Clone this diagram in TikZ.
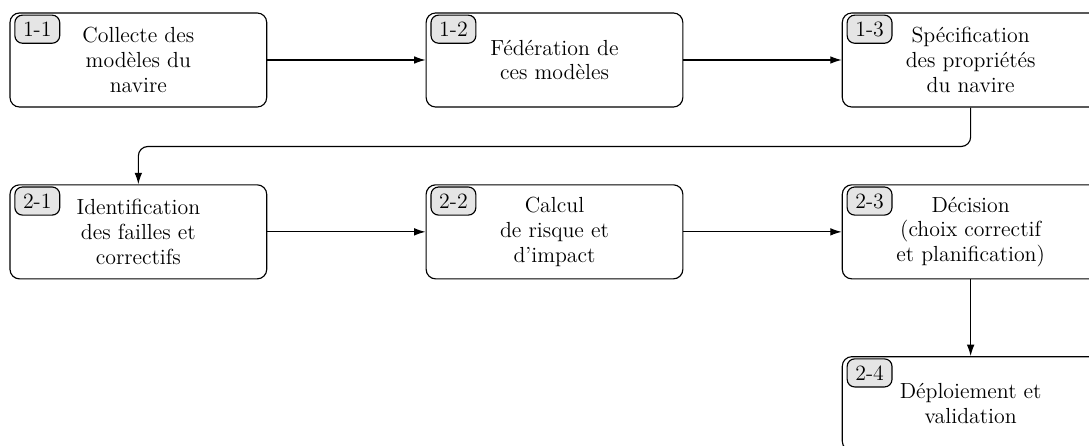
\documentclass[tikz,border=0pt]{standalone}
\usepackage[utf8]{inputenc}
\usepackage{tikz}
\usetikzlibrary{arrows, arrows.meta}

\begin{document}
\begin{tikzpicture}[
            > = {Latex[length=6pt, width=4pt]}, % arrow head style
            semithick, % line style
            node distance = 7.7cm, % distance between boxes
            font = \fontsize{11.5pt}{13pt}\selectfont
        ]

        \tikzstyle{stepbox}=[
            draw = black,
            rounded corners = 5pt,
            minimum width = 4.75cm,
            minimum height = 1.74cm,
            align = center
        ]
        \tikzstyle{tag}=[
            draw = black,
            fill = black!10,
            rounded corners = 4pt,
            minimum width = 0.83cm,
            minimum height = 0.52cm,
            inner sep = 1pt
        ]

        \useasboundingbox (0,0) rectangle (20.15,-8.25);

        % first row
        \node[stepbox] (s11) at (2.56,-1.11) {Collecte des\\ modèles du\\ navire};
        \node[stepbox] (s12) [right of=s11] {Fédération de\\ ces modèles};
        \node[stepbox] (s13) [right of=s12] {Spécification\\ des propriétés\\ du navire};

        % second row
        \node[stepbox] (s21) [below of=s11, node distance=3.18cm] {Identification\\ des failles et\\ correctifs};
        \node[stepbox] (s22) [right of=s21] {Calcul\\ de risque et\\ d'impact};
        \node[stepbox] (s23) [right of=s22] {Décision\\ (choix correctif\\ et planification)};
        \node[stepbox] (s24) [below of=s23, node distance=3.18cm] {Déploiement et\\ validation};

        % tags
        \node[tag, anchor=north west] (t11) at ([xshift=0.09cm, yshift=-0.04cm]s11.north west) {1-1};
        \node[tag, anchor=north west] (t12) at ([xshift=0.09cm, yshift=-0.04cm]s12.north west) {1-2};
        \node[tag, anchor=north west] (t13) at ([xshift=0.09cm, yshift=-0.04cm]s13.north west) {1-3};
        \node[tag, anchor=north west] (t21) at ([xshift=0.09cm, yshift=-0.04cm]s21.north west) {2-1};
        \node[tag, anchor=north west] (t22) at ([xshift=0.09cm, yshift=-0.04cm]s22.north west) {2-2};
        \node[tag, anchor=north west] (t23) at ([xshift=0.09cm, yshift=-0.04cm]s23.north west) {2-3};
        \node[tag, anchor=north west] (t24) at ([xshift=0.09cm, yshift=-0.04cm]s24.north west) {2-4};

        \path[->] (s11) edge (s12);
        \path[->] (s12) edge (s13);
        \draw[->, rounded corners=5pt] (s13.south) -- ++(0,-0.72) -| (s21.north);
        \path[->] (s21) edge (s22);
        \path[->] (s22) edge (s23);
        \path[->] (s23) edge (s24);

  \end{tikzpicture}
\end{document}
